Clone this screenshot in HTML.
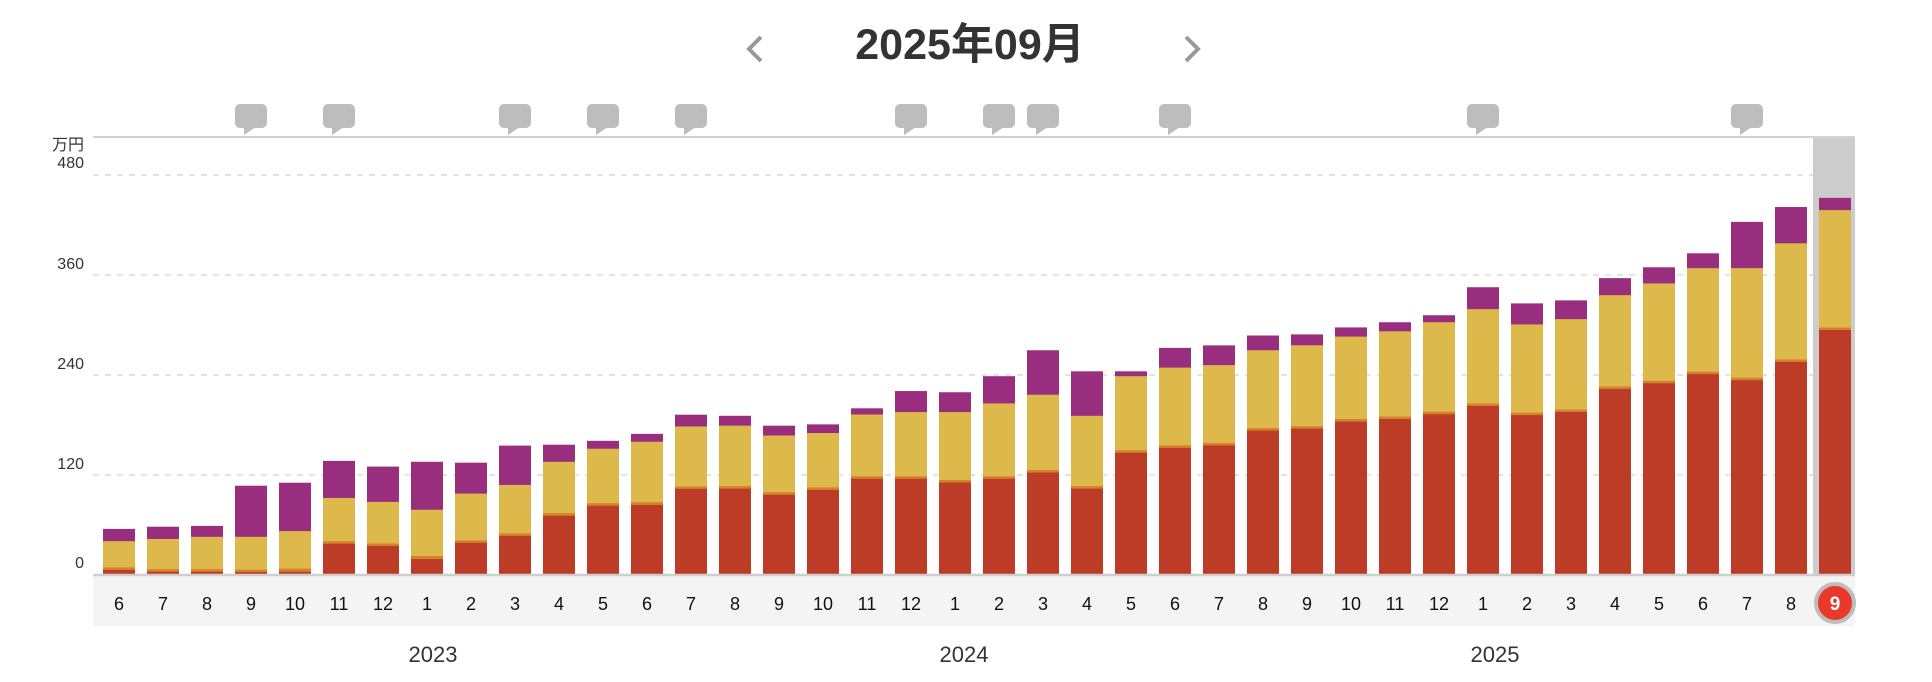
<!DOCTYPE html>
<html><head><meta charset="utf-8"><style>
html,body{margin:0;padding:0;background:#fff;}
svg{display:block;}
.p{fill:#992e7e}.y{fill:#ddb94c}.o{fill:#d4822c}.r{fill:#bd3c27}
text{font-family:"Liberation Sans","Noto Sans CJK JP",sans-serif;}
</style></head><body>
<svg width="1932" height="682" viewBox="0 0 1932 682" xmlns="http://www.w3.org/2000/svg">
<text x="970" y="59" font-size="43" font-weight="bold" fill="#333" text-anchor="middle">2025年09月</text>
<polyline points="761,37 749,49 761,61" fill="none" stroke="#999" stroke-width="4"/>
<polyline points="1186,37 1198,49 1186,61" fill="none" stroke="#999" stroke-width="4"/>
<defs><g id="bub"><rect x="-16" y="104" width="32" height="24" rx="5" fill="#bdbdbd"/><polygon points="-7,127 -7,135 5,127" fill="#bdbdbd"/></g></defs>
<use href="#bub" x="251"/><use href="#bub" x="339"/><use href="#bub" x="515"/><use href="#bub" x="603"/><use href="#bub" x="691"/><use href="#bub" x="911"/><use href="#bub" x="999"/><use href="#bub" x="1043"/><use href="#bub" x="1175"/><use href="#bub" x="1483"/><use href="#bub" x="1747"/>
<rect x="1813" y="137" width="42" height="438" fill="#cccccc"/>
<line x1="93" y1="137" x2="1855" y2="137" stroke="#d2d2d2" stroke-width="2"/>
<g stroke="#dcdcdc" stroke-width="1.5" stroke-dasharray="6,6">
<line x1="93" y1="175" x2="1813" y2="175"/><line x1="93" y1="275" x2="1813" y2="275"/><line x1="93" y1="375" x2="1813" y2="375"/><line x1="93" y1="475" x2="1813" y2="475"/>
</g>
<g font-size="16" fill="#333" text-anchor="end">
<text x="84" y="150">万円</text><text x="84" y="168">480</text><text x="84" y="269">360</text><text x="84" y="369">240</text><text x="84" y="469">120</text><text x="84" y="568">0</text>
</g>
<rect x="93" y="575" width="1762" height="51" fill="#f4f4f4"/>
<g transform="translate(0,175) scale(1,0.9975) translate(0,-176)">
<g transform="translate(103,0)"><rect class="p" width="32" y="530.8" height="46.2"/><rect class="y" width="32" y="543.1" height="33.9"/><rect class="o" width="32" y="569.4" height="7.6"/><rect class="r" width="32" y="571.9" height="5.1"/></g>
<g transform="translate(147,0)"><rect class="p" width="32" y="528.6" height="48.4"/><rect class="y" width="32" y="540.9" height="36.1"/><rect class="o" width="32" y="571.2" height="5.8"/><rect class="r" width="32" y="573.7" height="3.3"/></g>
<g transform="translate(191,0)"><rect class="p" width="32" y="527.8" height="49.2"/><rect class="y" width="32" y="538.7" height="38.3"/><rect class="o" width="32" y="571.2" height="5.8"/><rect class="r" width="32" y="573.7" height="3.3"/></g>
<g transform="translate(235,0)"><rect class="p" width="32" y="487.5" height="89.5"/><rect class="y" width="32" y="538.7" height="38.3"/><rect class="o" width="32" y="571.6" height="5.4"/><rect class="r" width="32" y="574.1" height="2.9"/></g>
<g transform="translate(279,0)"><rect class="p" width="32" y="484.5" height="92.5"/><rect class="y" width="32" y="533" height="44"/><rect class="o" width="32" y="570.6" height="6.4"/><rect class="r" width="32" y="573.7" height="3.3"/></g>
<g transform="translate(323,0)"><rect class="p" width="32" y="462.6" height="114.4"/><rect class="y" width="32" y="499.8" height="77.2"/><rect class="o" width="32" y="543.2" height="33.8"/><rect class="r" width="32" y="545.7" height="31.3"/></g>
<g transform="translate(367,0)"><rect class="p" width="32" y="468.3" height="108.7"/><rect class="y" width="32" y="503.7" height="73.3"/><rect class="o" width="32" y="545.4" height="31.6"/><rect class="r" width="32" y="547.9" height="29.1"/></g>
<g transform="translate(411,0)"><rect class="p" width="32" y="463.5" height="113.5"/><rect class="y" width="32" y="511.6" height="65.4"/><rect class="o" width="32" y="558" height="19"/><rect class="r" width="32" y="561" height="16"/></g>
<g transform="translate(455,0)"><rect class="p" width="32" y="464.4" height="112.6"/><rect class="y" width="32" y="495.4" height="81.6"/><rect class="o" width="32" y="542.3" height="34.7"/><rect class="r" width="32" y="544.8" height="32.2"/></g>
<g transform="translate(499,0)"><rect class="p" width="32" y="447.3" height="129.7"/><rect class="y" width="32" y="486.7" height="90.3"/><rect class="o" width="32" y="535.3" height="41.7"/><rect class="r" width="32" y="537.8" height="39.2"/></g>
<g transform="translate(543,0)"><rect class="p" width="32" y="446.4" height="130.6"/><rect class="y" width="32" y="463.5" height="113.5"/><rect class="o" width="32" y="515" height="62"/><rect class="r" width="32" y="517.7" height="59.3"/></g>
<g transform="translate(587,0)"><rect class="p" width="32" y="442.5" height="134.5"/><rect class="y" width="32" y="450.4" height="126.6"/><rect class="o" width="32" y="505" height="72"/><rect class="r" width="32" y="507.6" height="69.4"/></g>
<g transform="translate(631,0)"><rect class="p" width="32" y="435.5" height="141.5"/><rect class="y" width="32" y="443.4" height="133.6"/><rect class="o" width="32" y="504" height="73"/><rect class="r" width="32" y="506.8" height="70.2"/></g>
<g transform="translate(675,0)"><rect class="p" width="32" y="416.3" height="160.7"/><rect class="y" width="32" y="428.1" height="148.9"/><rect class="o" width="32" y="488.3" height="88.7"/><rect class="r" width="32" y="490.6" height="86.4"/></g>
<g transform="translate(719,0)"><rect class="p" width="32" y="417.4" height="159.6"/><rect class="y" width="32" y="427.3" height="149.7"/><rect class="o" width="32" y="487.9" height="89.1"/><rect class="r" width="32" y="490.4" height="86.6"/></g>
<g transform="translate(763,0)"><rect class="p" width="32" y="427.3" height="149.7"/><rect class="y" width="32" y="437.2" height="139.8"/><rect class="o" width="32" y="494.1" height="82.9"/><rect class="r" width="32" y="496.6" height="80.4"/></g>
<g transform="translate(807,0)"><rect class="p" width="32" y="426" height="151"/><rect class="y" width="32" y="434.7" height="142.3"/><rect class="o" width="32" y="489.2" height="87.8"/><rect class="r" width="32" y="491.7" height="85.3"/></g>
<g transform="translate(851,0)"><rect class="p" width="32" y="409.9" height="167.1"/><rect class="y" width="32" y="416.1" height="160.9"/><rect class="o" width="32" y="478" height="99"/><rect class="r" width="32" y="480.5" height="96.5"/></g>
<g transform="translate(895,0)"><rect class="p" width="32" y="392.6" height="184.4"/><rect class="y" width="32" y="413.7" height="163.3"/><rect class="o" width="32" y="478" height="99"/><rect class="r" width="32" y="480.5" height="96.5"/></g>
<g transform="translate(939,0)"><rect class="p" width="32" y="393.8" height="183.2"/><rect class="y" width="32" y="413.7" height="163.3"/><rect class="o" width="32" y="481.8" height="95.2"/><rect class="r" width="32" y="484.3" height="92.7"/></g>
<g transform="translate(983,0)"><rect class="p" width="32" y="377.7" height="199.3"/><rect class="y" width="32" y="405" height="172"/><rect class="o" width="32" y="478" height="99"/><rect class="r" width="32" y="480.5" height="96.5"/></g>
<g transform="translate(1027,0)"><rect class="p" width="32" y="351.7" height="225.3"/><rect class="y" width="32" y="396.3" height="180.7"/><rect class="o" width="32" y="471.8" height="105.2"/><rect class="r" width="32" y="474.3" height="102.7"/></g>
<g transform="translate(1071,0)"><rect class="p" width="32" y="372.8" height="204.2"/><rect class="y" width="32" y="417.4" height="159.6"/><rect class="o" width="32" y="487.9" height="89.1"/><rect class="r" width="32" y="490.4" height="86.6"/></g>
<g transform="translate(1115,0)"><rect class="p" width="32" y="372.8" height="204.2"/><rect class="y" width="32" y="377.7" height="199.3"/><rect class="o" width="32" y="452" height="125"/><rect class="r" width="32" y="454.5" height="122.5"/></g>
<g transform="translate(1159,0)"><rect class="p" width="32" y="349.3" height="227.7"/><rect class="y" width="32" y="369.1" height="207.9"/><rect class="o" width="32" y="447.1" height="129.9"/><rect class="r" width="32" y="449.6" height="127.4"/></g>
<g transform="translate(1203,0)"><rect class="p" width="32" y="346.8" height="230.2"/><rect class="y" width="32" y="366.6" height="210.4"/><rect class="o" width="32" y="444.6" height="132.4"/><rect class="r" width="32" y="447.1" height="129.9"/></g>
<g transform="translate(1247,0)"><rect class="p" width="32" y="336.9" height="240.1"/><rect class="y" width="32" y="351.7" height="225.3"/><rect class="o" width="32" y="429.7" height="147.3"/><rect class="r" width="32" y="432.2" height="144.8"/></g>
<g transform="translate(1291,0)"><rect class="p" width="32" y="335.8" height="241.2"/><rect class="y" width="32" y="346.7" height="230.3"/><rect class="o" width="32" y="427.8" height="149.2"/><rect class="r" width="32" y="430.3" height="146.7"/></g>
<g transform="translate(1335,0)"><rect class="p" width="32" y="328.8" height="248.2"/><rect class="y" width="32" y="338" height="239"/><rect class="o" width="32" y="420.7" height="156.3"/><rect class="r" width="32" y="423.2" height="153.8"/></g>
<g transform="translate(1379,0)"><rect class="p" width="32" y="323.6" height="253.4"/><rect class="y" width="32" y="332.7" height="244.3"/><rect class="o" width="32" y="418.1" height="158.9"/><rect class="r" width="32" y="420.6" height="156.4"/></g>
<g transform="translate(1423,0)"><rect class="p" width="32" y="316.6" height="260.4"/><rect class="y" width="32" y="323.6" height="253.4"/><rect class="o" width="32" y="413.3" height="163.7"/><rect class="r" width="32" y="415.8" height="161.2"/></g>
<g transform="translate(1467,0)"><rect class="p" width="32" y="288.5" height="288.5"/><rect class="y" width="32" y="310.5" height="266.5"/><rect class="o" width="32" y="405" height="172"/><rect class="r" width="32" y="407.5" height="169.5"/></g>
<g transform="translate(1511,0)"><rect class="p" width="32" y="304.7" height="272.3"/><rect class="y" width="32" y="325.8" height="251.2"/><rect class="o" width="32" y="414.2" height="162.8"/><rect class="r" width="32" y="416.7" height="160.3"/></g>
<g transform="translate(1555,0)"><rect class="p" width="32" y="301.7" height="275.3"/><rect class="y" width="32" y="320.5" height="256.5"/><rect class="o" width="32" y="411.1" height="165.9"/><rect class="r" width="32" y="413.6" height="163.4"/></g>
<g transform="translate(1599,0)"><rect class="p" width="32" y="279.4" height="297.6"/><rect class="y" width="32" y="296.5" height="280.5"/><rect class="o" width="32" y="388" height="189"/><rect class="r" width="32" y="390.5" height="186.5"/></g>
<g transform="translate(1643,0)"><rect class="p" width="32" y="268.5" height="308.5"/><rect class="y" width="32" y="284.7" height="292.3"/><rect class="o" width="32" y="382.3" height="194.7"/><rect class="r" width="32" y="384.8" height="192.2"/></g>
<g transform="translate(1687,0)"><rect class="p" width="32" y="254.5" height="322.5"/><rect class="y" width="32" y="269.4" height="307.6"/><rect class="o" width="32" y="373.1" height="203.9"/><rect class="r" width="32" y="375.6" height="201.4"/></g>
<g transform="translate(1731,0)"><rect class="p" width="32" y="223" height="354"/><rect class="y" width="32" y="269.4" height="307.6"/><rect class="o" width="32" y="379.2" height="197.8"/><rect class="r" width="32" y="381.7" height="195.3"/></g>
<g transform="translate(1775,0)"><rect class="p" width="32" y="208.1" height="368.9"/><rect class="y" width="32" y="244.5" height="332.5"/><rect class="o" width="32" y="360.9" height="216.1"/><rect class="r" width="32" y="363.4" height="213.6"/></g>
<g transform="translate(1819,0)"><rect class="p" width="32" y="198.9" height="378.1"/><rect class="y" width="32" y="211.2" height="365.8"/><rect class="o" width="32" y="328.9" height="248.1"/><rect class="r" width="32" y="331.4" height="245.6"/></g>
</g>
<line x1="93" y1="575" x2="1855" y2="575" stroke="#cfcfcf" stroke-width="2.5"/>
<g font-size="18" fill="#111" text-anchor="middle">
<text x="119" y="610">6</text><text x="163" y="610">7</text><text x="207" y="610">8</text><text x="251" y="610">9</text><text x="295" y="610">10</text><text x="339" y="610">11</text><text x="383" y="610">12</text><text x="427" y="610">1</text><text x="471" y="610">2</text><text x="515" y="610">3</text><text x="559" y="610">4</text><text x="603" y="610">5</text><text x="647" y="610">6</text><text x="691" y="610">7</text><text x="735" y="610">8</text><text x="779" y="610">9</text><text x="823" y="610">10</text><text x="867" y="610">11</text><text x="911" y="610">12</text><text x="955" y="610">1</text><text x="999" y="610">2</text><text x="1043" y="610">3</text><text x="1087" y="610">4</text><text x="1131" y="610">5</text><text x="1175" y="610">6</text><text x="1219" y="610">7</text><text x="1263" y="610">8</text><text x="1307" y="610">9</text><text x="1351" y="610">10</text><text x="1395" y="610">11</text><text x="1439" y="610">12</text><text x="1483" y="610">1</text><text x="1527" y="610">2</text><text x="1571" y="610">3</text><text x="1615" y="610">4</text><text x="1659" y="610">5</text><text x="1703" y="610">6</text><text x="1747" y="610">7</text><text x="1791" y="610">8</text>
</g>
<circle cx="1835" cy="603" r="19" fill="#e8392a" stroke="#bdbdbd" stroke-width="4"/>
<text x="1835" y="610" font-size="19" font-weight="bold" fill="#fff" text-anchor="middle">9</text>
<g font-size="22" fill="#333" text-anchor="middle">
<text x="433" y="662">2023</text><text x="964" y="662">2024</text><text x="1495" y="662">2025</text>
</g>
</svg>
</body></html>
